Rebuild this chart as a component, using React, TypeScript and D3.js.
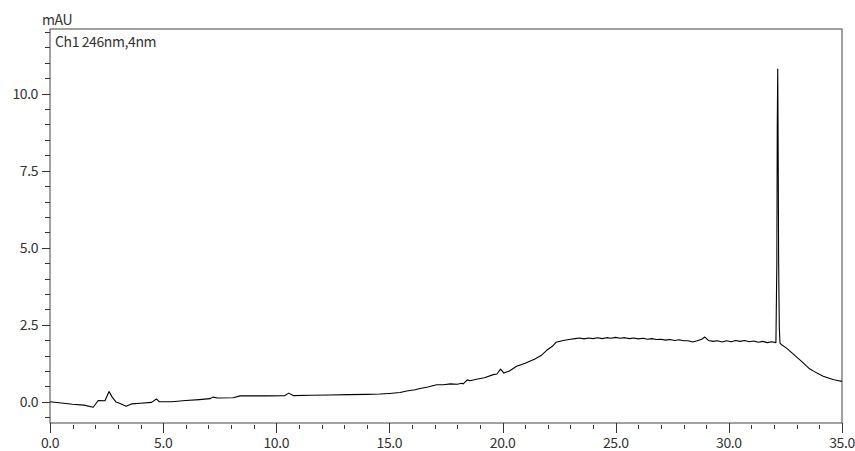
import React from 'react';
import * as d3 from 'd3';

// retention time (min) and absorbance (mAU)
const times = [
  0.0, 0.5, 1.0, 1.5, 1.91, 2.13, 2.43, 2.61, 2.75, 2.92, 3.1, 3.36, 3.6, 4.0, 4.49, 4.7, 4.83,
  5.38, 6.0, 6.6, 7.07, 7.2, 7.4, 8.1, 8.4, 9.0, 9.6, 10.38, 10.55, 10.75, 11.5, 12.37, 13.2,
  14.0, 14.58, 15.0, 15.47, 15.76, 16.13, 16.35, 16.7, 17.09, 17.38, 17.7, 18.0, 18.19, 18.26,
  18.44, 18.56, 18.9, 19.2, 19.59, 19.75, 19.91, 20.06, 20.3, 20.62, 21.0, 21.43, 21.7, 21.95,
  22.2, 22.36, 22.68, 23.0, 23.2, 23.4, 23.6, 23.8, 24.0, 24.2, 24.4, 24.6, 24.8, 25.0, 25.2,
  25.4, 25.6, 25.8, 26.0, 26.2, 26.4, 26.6, 26.8, 27.0, 27.2, 27.4, 27.6, 27.8, 28.0, 28.2,
  28.4, 28.6, 28.8, 28.94, 29.1, 29.3, 29.5, 29.7, 29.9, 30.1, 30.3, 30.5, 30.7, 30.9, 31.1,
  31.3, 31.5, 31.7, 31.9, 32.08, 32.12, 32.14, 32.16, 32.18, 32.2, 32.23, 32.26, 32.33, 32.55,
  32.8, 33.0, 33.2, 33.4, 33.58, 33.8, 34.0, 34.17, 34.4, 34.6, 34.8, 35.0,
];
const absorbance = [
  0.0, -0.04, -0.08, -0.11, -0.18, 0.04, 0.03, 0.33, 0.15, -0.01, -0.06, -0.15, -0.07, -0.05,
  -0.02, 0.09, 0.0, 0.0, 0.04, 0.07, 0.1, 0.15, 0.12, 0.13, 0.19, 0.19, 0.19, 0.2, 0.28, 0.2,
  0.21, 0.22, 0.23, 0.24, 0.25, 0.27, 0.3, 0.35, 0.39, 0.43, 0.48, 0.55, 0.55, 0.58, 0.57,
  0.6, 0.58, 0.71, 0.68, 0.74, 0.78, 0.88, 0.9, 1.06, 0.93, 1.0, 1.15, 1.25, 1.39, 1.5, 1.67,
  1.8, 1.93, 1.99, 2.03, 2.05, 2.07, 2.04, 2.07, 2.05, 2.08, 2.05, 2.08, 2.06, 2.09, 2.06,
  2.08, 2.05, 2.07, 2.04, 2.06, 2.03, 2.05, 2.02, 2.03, 2.0, 2.02, 1.99, 2.01, 1.98, 1.98,
  1.94, 1.98, 2.03, 2.1, 1.99, 1.96, 1.98, 1.94, 1.98, 1.95, 1.99, 1.96, 1.99, 1.95, 1.97,
  1.93, 1.96, 1.92, 1.95, 1.92, 4.5, 9.0, 10.8, 8.0, 4.5, 2.4, 1.9, 1.85, 1.74,
  1.58, 1.45, 1.32, 1.18, 1.06, 0.97, 0.89, 0.83, 0.77, 0.72, 0.69, 0.66,
];

const xMajor = [0, 5, 10, 15, 20, 25, 30, 35];
const xMinor = d3.range(0, 36, 1);
const yMajor = [0, 2.5, 5, 7.5, 10];
const yMinor = d3.range(-0.5, 12.01, 0.5);

const yUnit = 'mAU';
const channel = 'Ch1 246nm,4nm';

const W = 855;
const H = 451;
const left = 50;
const right = 842;
const top = 29;
const bottom = 423;
const font = '"Noto Sans CJK JP", "Noto Sans", sans-serif';

const App = () => {
  const x = d3.scaleLinear().domain([0, 35]).range([left, right]);
  const y = d3.scaleLinear().domain([-0.69, 12.1]).range([bottom, top]);

  const points = times.map((t, i) => [t, absorbance[i]] as [number, number]);
  const line = d3.line<[number, number]>()
    .x(d => x(d[0]))
    .y(d => y(d[1]));

  return (
    <svg width={W} height={H} style={{ position: 'absolute', left: 0, top: 0, background: '#fff' }}
      fontFamily={font} fontSize={14} fill="#333">
      <rect x={left} y={top} width={right - left} height={bottom - top} fill="none" stroke="#444" strokeWidth={1} />

      {/* y ticks */}
      {yMinor.map(v => (
        <line key={'ym' + v} x1={left - 5} x2={left} y1={Math.round(y(v)) + 0.5} y2={Math.round(y(v)) + 0.5} stroke="#333" />
      ))}
      {yMajor.map(v => (
        <g key={'yM' + v}>
          <line x1={left - 8} x2={left} y1={Math.round(y(v)) + 0.5} y2={Math.round(y(v)) + 0.5} stroke="#333" />
          <text x={38} y={y(v)} dy="0.36em" textAnchor="end" letterSpacing={-0.4}>{v.toFixed(1)}</text>
        </g>
      ))}

      {/* x ticks */}
      {xMinor.map(v => (
        <line key={'xm' + v} x1={Math.round(x(v)) + 0.5} x2={Math.round(x(v)) + 0.5} y1={bottom + 2} y2={bottom + 6} stroke="#333" />
      ))}
      {xMajor.map(v => (
        <g key={'xM' + v}>
          <line x1={Math.round(x(v)) + 0.5} x2={Math.round(x(v)) + 0.5} y1={bottom} y2={bottom + 10} stroke="#333" />
          <text x={x(v)} y={448} textAnchor="middle" letterSpacing={-0.4}>{v.toFixed(1)}</text>
        </g>
      ))}

      <text x={42} y={25} letterSpacing={-0.4}>{yUnit}</text>
      <text x={55} y={47} letterSpacing={-0.4}>{channel}</text>

      <path d={line(points) || ''} fill="none" stroke="#000" strokeWidth={1.1} strokeLinejoin="round" />
    </svg>
  );
};

export default App;
